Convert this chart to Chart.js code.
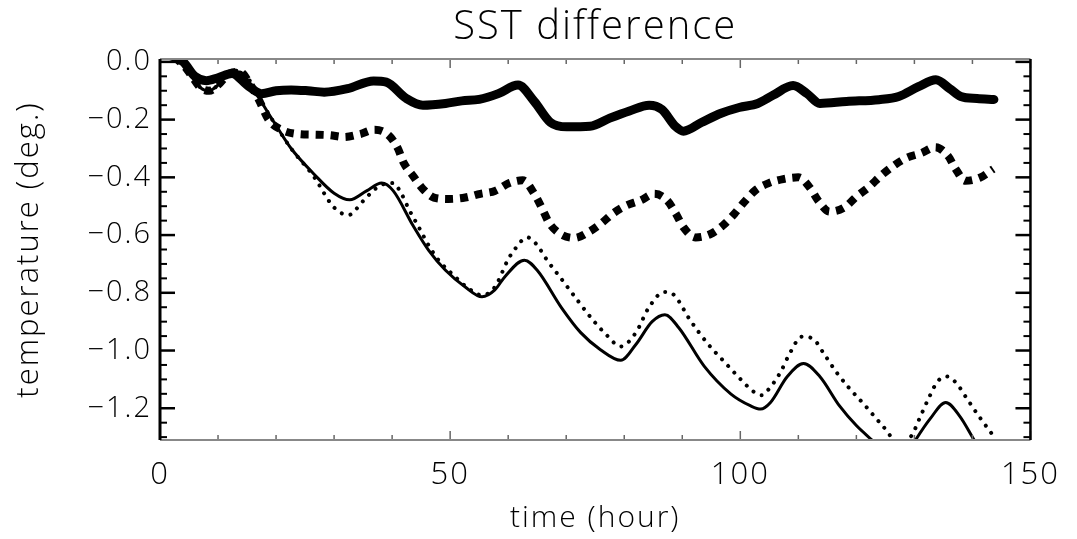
<!DOCTYPE html>
<html>
<head>
<meta charset="utf-8">
<title>SST difference</title>
<script src="https://cdn.jsdelivr.net/npm/chart.js@4.4.1/dist/chart.umd.min.js"></script>
<style>
  html, body { margin: 0; padding: 0; background: #fff; }
  #wrap { width: 1077px; height: 539px; }
</style>
</head>
<body>
<div id="wrap"><canvas id="sst-chart" width="1077" height="539"></canvas></div>
<script>
// values (time in hours, temperature difference in deg.)

// thick solid curve
const timeThick = [0, 2, 4, 6, 8, 10, 12.4, 15, 17.5, 20, 22.6, 25.5, 28.3, 32.3, 36.8, 39, 42.4, 45.3, 49.2, 52,
  55, 58.3, 61.7, 64.5, 67.3, 70.1, 74.1, 77.5, 80.9, 84.3, 86.5, 88.8, 90.2, 93.3, 96.7, 99.8, 103, 105.7,
  109.1, 111.5, 113.7, 118.3, 123.9, 127.3, 130.7, 133.7, 136.1, 138, 140.8, 143.7];
const sstThick = [0.03, 0.02, 0.0, -0.05, -0.065, -0.055, -0.04, -0.08, -0.11, -0.1, -0.097, -0.1, -0.105, -0.093,
  -0.066, -0.07, -0.126, -0.15, -0.144, -0.135, -0.13, -0.11, -0.08, -0.137, -0.21, -0.225, -0.223, -0.195,
  -0.17, -0.15, -0.165, -0.223, -0.24, -0.21, -0.178, -0.158, -0.144, -0.115, -0.082, -0.11, -0.144, -0.137,
  -0.131, -0.12, -0.086, -0.062, -0.093, -0.12, -0.127, -0.13];

// thick dashed (square dots) curve
const timeDash = [0, 2, 4, 5.5, 7, 8.5, 10, 12, 13.8, 15.3, 17, 18.7, 20.9, 23.8, 26.5, 29.2, 31.7, 34.5, 37,
  39.4, 41, 42, 43.6, 45.3, 47.2, 49.7, 52.6, 55.2, 57.7, 60.2, 62.5, 64.5, 65.9, 67, 68.9, 71.4, 73.8, 76,
  78, 80.3, 82.8, 85.2, 87.4, 88.9, 90.2, 92.3, 94.7, 97, 99, 100.7, 102.7, 104.9, 107.4, 110, 112, 113.4,
  115.4, 117.9, 120, 122.2, 124.2, 126.4, 128.6, 131.2, 133.6, 135.8, 137.1, 138.8, 141.4, 143.6];
const sstDash = [0.03, 0.02, -0.01, -0.05, -0.09, -0.1, -0.08, -0.04, -0.035, -0.07, -0.13, -0.2, -0.235,
  -0.25, -0.252, -0.254, -0.26, -0.25, -0.235, -0.254, -0.3, -0.35, -0.395, -0.44, -0.47, -0.475, -0.47,
  -0.457, -0.447, -0.42, -0.41, -0.457, -0.51, -0.556, -0.595, -0.61, -0.59, -0.56, -0.526, -0.498, -0.48,
  -0.457, -0.48, -0.526, -0.573, -0.608, -0.598, -0.567, -0.526, -0.485, -0.443, -0.42, -0.406, -0.4,
  -0.436, -0.48, -0.519, -0.505, -0.467, -0.433, -0.395, -0.36, -0.333, -0.316, -0.296, -0.326, -0.371,
  -0.412, -0.4, -0.371];

// thin solid curve
const timeSolid = [0, 2, 4, 5.5, 7, 8.5, 10, 12, 13.8, 15.3, 17.5, 19.9, 22.6, 26.6, 30, 32.7, 35.6, 38.2, 40.2,
  43.6, 46.3, 49.2, 52.6, 55.5, 57.7, 59.4, 62.8, 65, 69.2, 72.5, 75.9, 79.4, 82, 84.8, 87, 89.4, 93.8, 98.4,
  101.8, 103.5, 105.2, 108.1, 110.9, 113.7, 117.1, 120, 122.7, 125, 127.3, 129, 130.2, 132.7, 135.4, 137.8,
  140.3, 143.7];
const sstSolid = [0.03, 0.02, -0.01, -0.05, -0.09, -0.1, -0.08, -0.04, -0.035, -0.07, -0.14, -0.217, -0.3, -0.39,
  -0.455, -0.478, -0.447, -0.42, -0.447, -0.567, -0.653, -0.722, -0.78, -0.814, -0.79, -0.745, -0.687,
  -0.722, -0.852, -0.938, -0.997, -1.034, -0.979, -0.9, -0.876, -0.921, -1.055, -1.151, -1.192, -1.203,
  -1.18, -1.09, -1.045, -1.09, -1.192, -1.26, -1.31, -1.35, -1.37, -1.35, -1.31, -1.237, -1.18, -1.227,
  -1.31, -1.42];

// thin dotted curve
const timeDot = [0, 2, 4, 5.5, 7, 8.5, 10, 12, 13.8, 15.3, 17, 19.2, 22.6, 26.6, 29.4, 30.9, 32.6, 33.8, 35.1,
  37.8, 40.2, 41.6, 43, 44.6, 46.3, 48, 50.9, 53.1, 55.5, 57.7, 60, 61.1, 63.3, 64.8, 66.7, 69.1, 72.1, 74.3,
  76.9, 79.4, 82, 84.3, 86.9, 88.6, 91.3, 94.5, 97.2, 99.6, 102.2, 103.7, 104.9, 106.9, 108.6, 110.6, 112.5,
  114.5, 116.6, 118.8, 121.3, 124.7, 127.3, 129.5, 131, 132.4, 134, 135.6, 137.1, 139.1, 141.2, 143.4];
const sstDot = [0.03, 0.02, -0.01, -0.05, -0.09, -0.1, -0.08, -0.04, -0.03, -0.06, -0.12, -0.196, -0.3, -0.4,
  -0.49, -0.52, -0.53, -0.51, -0.48, -0.43, -0.42, -0.457, -0.515, -0.573, -0.636, -0.687, -0.745, -0.784,
  -0.808, -0.78, -0.684, -0.65, -0.608, -0.63, -0.687, -0.75, -0.83, -0.887, -0.945, -0.986, -0.938, -0.849,
  -0.797, -0.808, -0.893, -0.979, -1.038, -1.09, -1.141, -1.155, -1.134, -1.076, -1.007, -0.952, -0.959,
  -1.014, -1.076, -1.131, -1.186, -1.265, -1.32, -1.295, -1.23, -1.168, -1.107, -1.09, -1.11, -1.168, -1.23,
  -1.29];

// axes
const xTicks = [0, 50, 100, 150];
const yTicks = [0.0, -0.2, -0.4, -0.6, -0.8, -1.0, -1.2];

const FONT = "'Open Sans', 'Liberation Sans', sans-serif";

function pts(xs, ys) {
  return xs.map((t, i) => ({x: t, y: ys[i]}));
}

function fmtY(v) {
  const r = Math.round(v * 10) / 10;
  if (r === 0) return '0.0';
  return (r < 0 ? '\u2212' : '') + Math.abs(r).toFixed(1);
}

// wide, thin lettering like the plotting package's vector font
const spacing = {
  id: 'spacing',
  beforeUpdate(chart) { chart.ctx.letterSpacing = '2px'; },
  beforeDraw(chart) { chart.ctx.letterSpacing = '2px'; }
};

// IDL-style box with inward tick marks on all four sides
const idlFrame = {
  id: 'idlFrame',
  afterDatasetsDraw(chart) {
    const {ctx, chartArea: a, scales: {x, y}} = chart;
    const seg = (x1, y1, x2, y2) => { ctx.beginPath(); ctx.moveTo(x1, y1); ctx.lineTo(x2, y2); ctx.stroke(); };
    ctx.save();
    ctx.lineCap = 'butt';

    // y ticks every 0.05, major every 0.2
    ctx.strokeStyle = '#000';
    for (let i = 0; i <= 26; i++) {
      const py = y.getPixelForValue(-i * 0.05);
      if (py < a.top || py > a.bottom) continue;
      const major = i % 4 === 0;
      ctx.lineWidth = major ? 2.5 : 2;
      const len = major ? 15 : 7;
      seg(a.left, py, a.left + len, py);
      seg(a.right, py, a.right - len, py);
    }

    // x ticks every 10 h, major every 50 h
    ctx.strokeStyle = '#666';
    for (let t = 0; t <= 150; t += 10) {
      const px = x.getPixelForValue(t);
      const major = t % 50 === 0;
      ctx.lineWidth = 1.5;
      const len = major ? 9 : 5;
      seg(px, a.bottom, px, a.bottom - len);
      seg(px, a.top, px, a.top + len);
    }

    // frame
    ctx.strokeStyle = '#888';
    ctx.lineWidth = 2;
    seg(a.left, a.top, a.right, a.top);
    seg(a.left, a.bottom, a.right, a.bottom);
    ctx.strokeStyle = '#000';
    ctx.lineWidth = 3;
    seg(a.left, a.top, a.left, a.bottom);
    ctx.lineWidth = 2.5;
    seg(a.right, a.top, a.right, a.bottom);
    ctx.restore();
  }
};

const common = {
  borderColor: '#000',
  pointRadius: 0,
  fill: false,
  cubicInterpolationMode: 'monotone',
  clip: 1
};

new Chart(document.getElementById('sst-chart'), {
  type: 'line',
  data: {
    datasets: [
      Object.assign({label: 'thick', data: pts(timeThick, sstThick), borderWidth: 9,
        borderJoinStyle: 'round', borderCapStyle: 'round'}, common),
      Object.assign({label: 'dashed', data: pts(timeDash, sstDash), borderWidth: 8,
        borderDash: [8, 7], borderCapStyle: 'butt'}, common),
      Object.assign({label: 'solid', data: pts(timeSolid, sstSolid), borderWidth: 3}, common),
      Object.assign({label: 'dotted', data: pts(timeDot, sstDot), borderWidth: 4,
        borderDash: [0.01, 9], borderCapStyle: 'round'}, common)
    ]
  },
  options: {
    responsive: false,
    animation: false,
    events: [],
    layout: {padding: {left: 0, right: 33, top: 0, bottom: 0}},
    plugins: {
      legend: {display: false},
      tooltip: {enabled: false},
      title: {
        display: true,
        text: 'SST difference',
        fullSize: false,
        color: '#000',
        font: {family: FONT, size: 40, weight: 300, lineHeight: 1.2},
        padding: {top: 4, bottom: 7}
      }
    },
    scales: {
      x: {
        type: 'linear',
        min: 0,
        max: 150,
        afterFit(s) { s.height = 99; },
        afterBuildTicks(s) { s.ticks = xTicks.map(v => ({value: v})); },
        grid: {display: false, drawTicks: false},
        border: {display: false},
        ticks: {
          color: '#000',
          padding: 17,
          maxRotation: 0,
          autoSkip: false,
          font: {family: FONT, size: 31, weight: 300},
          callback: v => String(v)
        },
        title: {
          display: true,
          text: 'time (hour)',
          color: '#000',
          font: {family: FONT, size: 30, weight: 300, lineHeight: 1.2},
          padding: {top: 0, bottom: 3}
        }
      },
      y: {
        type: 'linear',
        min: -1.31,
        max: 0.01,
        afterFit(s) { s.width = 160; },
        afterBuildTicks(s) { s.ticks = yTicks.map(v => ({value: v})); },
        grid: {display: false, drawTicks: false},
        border: {display: false},
        ticks: {
          color: '#000',
          padding: 8,
          autoSkip: false,
          font: {family: FONT, size: 29, weight: 300},
          callback: v => fmtY(v)
        },
        title: {
          display: true,
          text: 'temperature (deg.)',
          color: '#000',
          font: {family: FONT, size: 31, weight: 300, lineHeight: 1.2},
          padding: {top: 11, bottom: 0}
        }
      }
    }
  },
  plugins: [spacing, idlFrame]
});
</script>
</body>
</html>
